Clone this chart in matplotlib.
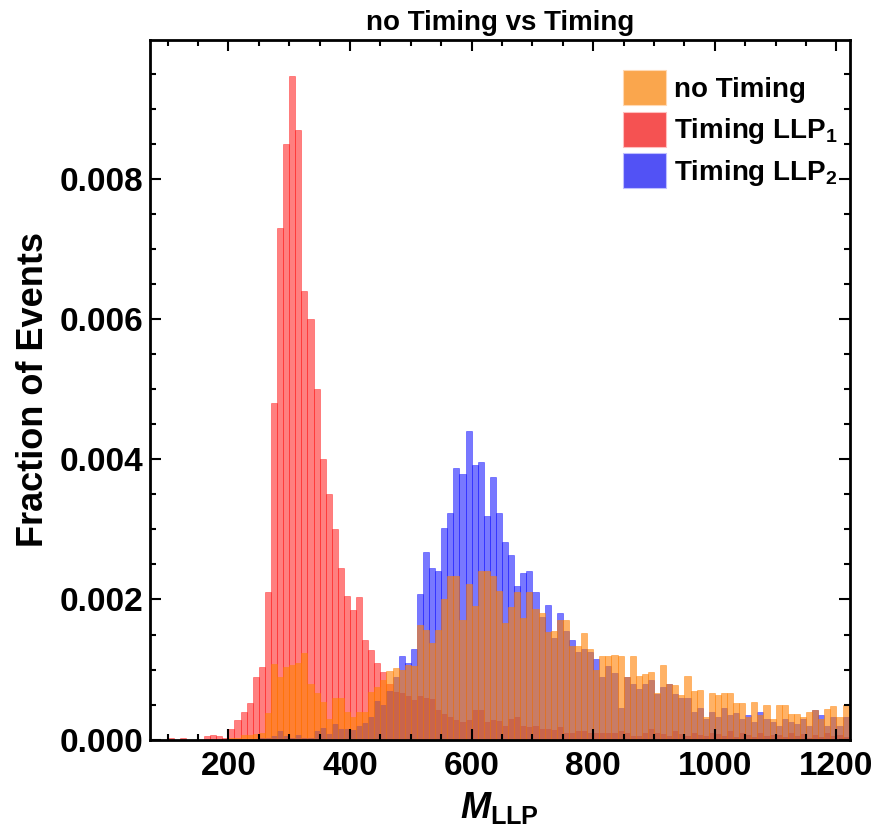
import numpy as np
import matplotlib
matplotlib.use("Agg")
import matplotlib.pyplot as plt
from matplotlib.patches import Patch
from matplotlib.ticker import MultipleLocator, FormatStrFormatter

plt.rcParams['font.family'] = ['Liberation Sans', 'DejaVu Sans']
plt.rcParams['font.weight'] = 'bold'
plt.rcParams['mathtext.fontset'] = 'custom'
plt.rcParams['mathtext.rm'] = 'Liberation Sans:bold'
plt.rcParams['mathtext.it'] = 'Liberation Sans:italic:bold'
plt.rcParams['mathtext.bf'] = 'Liberation Sans:bold'

# left edges of the 10 GeV bins
bin_left = np.arange(100, 1230, 10)

# fraction of events per bin, in units of 1e-4
no_timing = [
    0, 0, 0, 0, 0, 0, 0, 0, 0, 0,
    0.3, 0.3, 0.6, 0.6, 0.8, 1.0, 3.8, 10.8, 9.0, 10.4,
    10.6, 11.0, 12.4, 8.0, 6.7, 5.4, 3.0, 6.0, 6.0, 4.0,
    3.2, 4.0, 4.0, 6.8, 7.5, 8.5, 9.8, 10.2, 10.0, 10.7,
    10.5, 16.4, 15.7, 13.8, 15.7, 20.0, 23.4, 23.4, 17.1, 22.2,
    19.1, 24.0, 24.0, 23.3, 21.2, 16.7, 18.9, 21.0, 17.4, 21.0,
    18.6, 18.1, 15.3, 15.5, 17.1, 17.1, 13.3, 13.3, 15.2, 13.0,
    10.0, 11.9, 12.0, 12.1, 12.0, 9.0, 12.0, 9.1, 9.4, 9.6,
    6.6, 10.6, 7.9, 7.8, 6.4, 9.1, 6.9, 7.1, 3.3, 6.7,
    6.4, 6.7, 6.7, 5.2, 5.2, 3.3, 5.4, 3.5, 5.0, 3.0,
    5.0, 5.0, 3.6, 3.6, 3.3, 4.0, 4.3, 3.0, 4.4, 4.8,
    3.3, 5.0, 4.6,
]
timing_llp1 = [
    0.3, 0, 0.3, 0, 0, 0, 0.5, 0.6, 0.5, 0.3,
    1.5, 2.8, 4.0, 5.3, 8.9, 10.4, 21.0, 48.0, 73.0, 85.0,
    94.7, 87.0, 64.0, 60.0, 50.0, 40.0, 35.0, 30.0, 24.5, 20.5,
    18.5, 20.3, 14.2, 12.8, 11.0, 9.6, 8.0, 6.8, 6.6, 6.3,
    5.6, 6.2, 6.0, 5.8, 4.2, 3.6, 3.3, 2.8, 2.5, 2.8,
    4.3, 4.3, 2.5, 2.8, 2.6, 2.0, 3.0, 3.2, 2.0, 1.8,
    2.0, 1.5, 1.5, 1.4, 1.8, 1.0, 1.0, 1.3, 1.2, 1.0,
    1.0, 1.0, 1.0, 1.0, 1.2, 1.0, 0.5, 0.5, 1.0, 1.5,
    1.0, 0.8, 0.5, 1.2, 0.8, 0.5, 0.9, 0.7, 0.5, 1.0,
    0.8, 0.5, 1.2, 0.4, 0.9, 0.6, 0.4, 1.0, 0.5, 0.7,
    0.6, 0.4, 1.0, 0.5, 0.8, 0.3, 0.7, 0.4, 0.9, 0.5,
    0.7, 0.4, 0.5,
]
timing_llp2 = [
    0, 0, 0, 0, 0, 0, 0, 0, 0, 0,
    0, 0, 0, 0, 0, 0.2, 0.3, 0.5, 1.2, 0.5,
    0.3, 0.7, 0.3, 0.3, 1.3, 1.7, 0.8, 2.3, 1.5, 1.5,
    1.4, 2.0, 2.4, 3.3, 5.5, 5.0, 7.0, 9.0, 11.9, 11.0,
    13.0, 20.8, 26.8, 24.5, 24.0, 30.2, 32.4, 38.8, 37.9, 44.0,
    39.2, 39.6, 31.9, 37.5, 32.4, 28.2, 26.3, 21.9, 23.8, 24.0,
    21.0, 17.5, 19.2, 14.5, 18.1, 15.5, 14.2, 12.5, 13.0, 12.5,
    11.5, 9.0, 10.5, 9.5, 4.5, 9.0, 8.0, 7.3, 8.0, 8.5,
    6.5, 7.5, 8.0, 6.5, 6.0, 6.0, 4.0, 4.5, 3.0, 4.0,
    3.3, 4.5, 3.5, 3.8, 3.0, 3.5, 2.5, 4.0, 3.0, 2.5,
    2.0, 3.0, 2.5, 2.2, 3.0, 2.0, 4.3, 3.5, 2.0, 3.3,
    2.0, 3.2, 3.0,
]

labels = ['no Timing', 'Timing LLP$_{\\mathrm{1}}$', 'Timing LLP$_{\\mathrm{2}}$']

fig = plt.figure(figsize=(8.77, 8.33), dpi=100)
ax = fig.add_axes([0.171, 0.112, 0.798, 0.840])

# draw order: red, then blue, orange on top
series = [
    (timing_llp1, (1.0, 0.0, 0.0), 0.5),
    (timing_llp2, (0.0, 0.0, 1.0), 0.53),
    (no_timing, (1.0, 0.5, 0.0), 0.6),
]
for vals, col, a in series:
    h = np.array(vals) * 1e-4
    ax.bar(bin_left, h, width=10, align='edge', color=col, alpha=a,
           edgecolor=col, linewidth=0.5)

ax.set_xlim(71, 1222)
ax.set_ylim(0, 0.00998)

ax.xaxis.set_major_locator(MultipleLocator(200))
ax.xaxis.set_minor_locator(MultipleLocator(50))
ax.yaxis.set_major_locator(MultipleLocator(0.002))
ax.yaxis.set_minor_locator(MultipleLocator(0.0005))
ax.yaxis.set_major_formatter(FormatStrFormatter('%.3f'))

ax.tick_params(which='both', direction='in', top=True, right=True,
               labelsize=24, width=1.5)
ax.tick_params(which='major', length=8)
ax.tick_params(which='minor', length=4)
ax.tick_params(axis='x', pad=8)
ax.tick_params(axis='y', pad=5)
for lab in ax.get_xticklabels() + ax.get_yticklabels():
    lab.set_fontweight('bold')
for sp in ax.spines.values():
    sp.set_linewidth(2)

ax.set_ylabel('Fraction of Events', fontsize=26, fontweight='bold', labelpad=6)
ax.set_xlabel('$M_{\\mathrm{LLP}}$', fontsize=26, labelpad=6)
ax.set_title('no Timing vs Timing', fontsize=20, fontweight='bold', pad=7)

handles = [
    Patch(facecolor=(0.98, 0.65, 0.30), edgecolor=(1, 0.85, 0.7), linewidth=0.8),
    Patch(facecolor=(0.96, 0.32, 0.32), edgecolor=(1, 0.75, 0.75), linewidth=0.8),
    Patch(facecolor=(0.32, 0.32, 0.96), edgecolor=(0.75, 0.75, 1), linewidth=0.8),
]
ax.legend(handles, labels, loc='upper left', bbox_to_anchor=(623 / 877, 1 - 70 / 833),
          bbox_transform=fig.transFigure, frameon=False,
          handlelength=1.55, handleheight=1.55, handletextpad=0.3,
          labelspacing=0.25, borderpad=0, borderaxespad=0,
          prop={'weight': 'bold', 'size': 20})

fig.savefig('out.png', dpi=100)
